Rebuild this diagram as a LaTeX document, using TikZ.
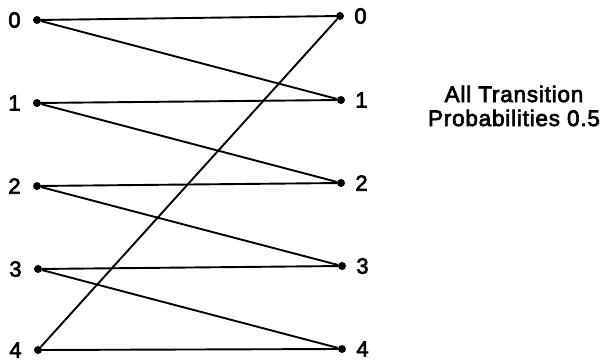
\documentclass[tikz,border=0pt]{standalone}
\usepackage{fontspec}
\setmainfont{Liberation Sans}[LetterSpace=3.5,FakeBold=3]
\usetikzlibrary{positioning}
\tikzset{
  state/.style={circle,fill=black,inner sep=0pt,minimum size=8pt},
  numfont/.style={font=\fontsize{22}{22}\selectfont,inner sep=0pt},
  lnum/.style={label={[numfont,label distance=12pt]left:#1}},
  rnum/.style={label={[numfont,label distance=10pt]right:#1}},
  trans/.style={line width=1.9pt}
}
\begin{document}
\begin{tikzpicture}[x=1pt,y=-1pt]
  \useasboundingbox (0,0) rectangle (614,364);
  % left column
  \node[state,lnum=0] (l0) at (37,20)  {};
  \node[state,lnum=1] (l1) at (37,103) {};
  \node[state,lnum=2] (l2) at (37,186) {};
  \node[state,lnum=3] (l3) at (38,269) {};
  \node[state,lnum=4] (l4) at (38,350) {};
  % right column
  \node[state,rnum=0] (r0) at (340,16)  {};
  \node[state,rnum=1] (r1) at (341,100) {};
  \node[state,rnum=2] (r2) at (341,183) {};
  \node[state,rnum=3] (r3) at (342,266) {};
  \node[state,rnum=4] (r4) at (342,349) {};
  \node[font=\fontsize{22.5}{24}\selectfont,align=center,inner sep=0pt] (note)
       at (514,106) {All Transition\\Probabilities 0.5};
  \foreach \i/\j in {0/1,1/2,2/3,3/4} {
    \draw[trans] (l\i) -- (r\i);
    \draw[trans] (l\i) -- (r\j);
  }
  \draw[trans] (l4) -- (r4);
  \draw[trans] (l4) -- (r0);
\end{tikzpicture}
\end{document}
